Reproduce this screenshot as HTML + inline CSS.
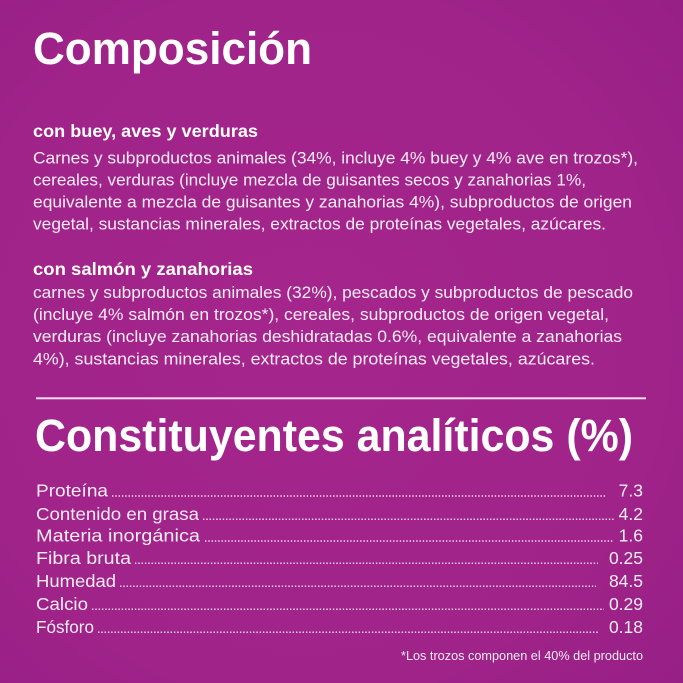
<!DOCTYPE html>
<html><head><meta charset="utf-8"><style>
html,body{margin:0;padding:0;width:683px;height:683px;overflow:hidden;}
svg{display:block;}
text{font-family:"Liberation Sans",sans-serif;}
</style></head><body>
<svg width="683" height="683" viewBox="0 0 683 683" xmlns="http://www.w3.org/2000/svg">
<defs>
<radialGradient id="bg" cx="0.45" cy="0.5" r="0.75">
<stop offset="0" stop-color="#a5268c"/>
<stop offset="0.7" stop-color="#9f2389"/>
<stop offset="1" stop-color="#961f86"/>
</radialGradient>
</defs>
<rect width="683" height="683" fill="url(#bg)"/>
<g fill="#ffffff" font-weight="bold">
<text x="33" y="64" font-size="45" textLength="279" lengthAdjust="spacingAndGlyphs">Composición</text>
<text x="33" y="137" font-size="17.5" textLength="225" lengthAdjust="spacingAndGlyphs">con buey, aves y verduras</text>
<text x="33" y="275" font-size="17.5" textLength="220" lengthAdjust="spacingAndGlyphs">con salmón y zanahorias</text>
<text x="35" y="451" font-size="45" textLength="598" lengthAdjust="spacingAndGlyphs">Constituyentes analíticos (%)</text>
</g>
<g fill="#f8ecf5" font-size="17">
<text x="33" y="163.5" textLength="605" lengthAdjust="spacingAndGlyphs">Carnes y subproductos animales (34%, incluye 4% buey y 4% ave en trozos*),</text>
<text x="33" y="185.5" textLength="553" lengthAdjust="spacingAndGlyphs">cereales, verduras (incluye mezcla de guisantes secos y zanahorias 1%,</text>
<text x="33" y="207.5" textLength="599" lengthAdjust="spacingAndGlyphs">equivalente a mezcla de guisantes y zanahorias 4%), subproductos de origen</text>
<text x="33" y="229.5" textLength="573" lengthAdjust="spacingAndGlyphs">vegetal, sustancias minerales, extractos de proteínas vegetales, azúcares.</text>
<text x="33" y="298" textLength="600" lengthAdjust="spacingAndGlyphs">carnes y subproductos animales (32%), pescados y subproductos de pescado</text>
<text x="33" y="320" textLength="576" lengthAdjust="spacingAndGlyphs">(incluye 4% salmón en trozos*), cereales, subproductos de origen vegetal,</text>
<text x="33" y="342" textLength="589" lengthAdjust="spacingAndGlyphs">verduras (incluye zanahorias deshidratadas 0.6%, equivalente a zanahorias</text>
<text x="33" y="364.5" textLength="562" lengthAdjust="spacingAndGlyphs">4%), sustancias minerales, extractos de proteínas vegetales, azúcares.</text>
</g>
<rect x="36" y="397.3" width="610" height="2" fill="#f3dcef"/>
<g fill="#f8ecf5" font-size="17.5">
<text x="36" y="496.7" textLength="72" lengthAdjust="spacingAndGlyphs">Proteína</text>
<text x="36" y="520" textLength="163" lengthAdjust="spacingAndGlyphs">Contenido en grasa</text>
<text x="36" y="541.7" textLength="164" lengthAdjust="spacingAndGlyphs">Materia inorgánica</text>
<text x="36" y="564" textLength="95" lengthAdjust="spacingAndGlyphs">Fibra bruta</text>
<text x="36" y="587" textLength="80" lengthAdjust="spacingAndGlyphs">Humedad</text>
<text x="36" y="610" textLength="52" lengthAdjust="spacingAndGlyphs">Calcio</text>
<text x="36" y="633" textLength="58" lengthAdjust="spacingAndGlyphs">Fósforo</text>
</g>
<g fill="#f8ecf5" font-size="17.5" text-anchor="end">
<text x="643" y="496.7">7.3</text>
<text x="643" y="520">4.2</text>
<text x="643" y="541.7">1.6</text>
<text x="643" y="564">0.25</text>
<text x="643" y="587">84.5</text>
<text x="643" y="610">0.29</text>
<text x="643" y="633">0.18</text>
</g>
<g stroke="#f3dcef" stroke-width="1.5" stroke-dasharray="1.4 1.9">
<line x1="112" y1="496" x2="607" y2="496"/>
<line x1="203" y1="519.3" x2="614" y2="519.3"/>
<line x1="205" y1="541" x2="613" y2="541"/>
<line x1="135" y1="563.3" x2="598" y2="563.3"/>
<line x1="120" y1="586.3" x2="596" y2="586.3"/>
<line x1="92" y1="609.3" x2="604" y2="609.3"/>
<line x1="98" y1="632.3" x2="598" y2="632.3"/>
</g>
<text x="643" y="660" font-size="12.5" fill="#f8ecf5" text-anchor="end" textLength="242" lengthAdjust="spacingAndGlyphs">*Los trozos componen el 40% del producto</text>
</svg>
</body></html>
